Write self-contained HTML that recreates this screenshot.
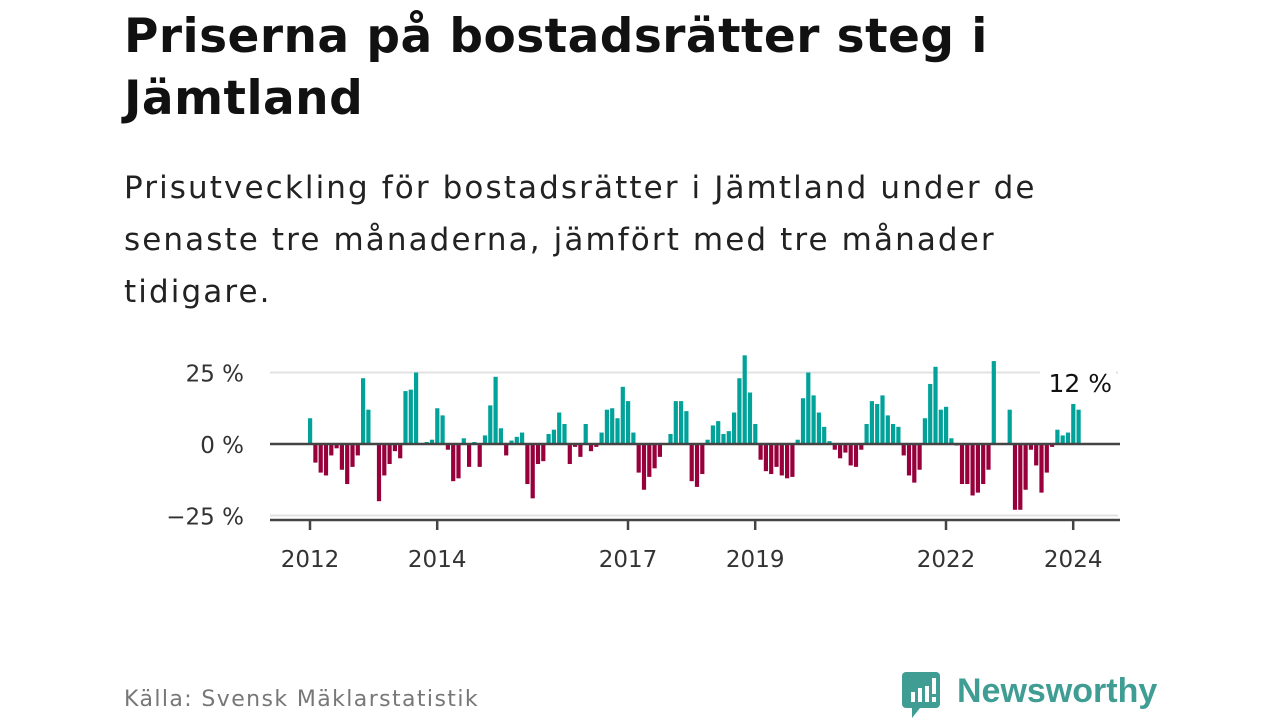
<!DOCTYPE html>
<html><head><meta charset="utf-8"><style>
body{margin:0;width:1280px;height:720px;background:#fff;overflow:hidden;font-family:"DejaVu Sans",sans-serif;position:relative}
#title{position:absolute;left:124px;top:6px;font-size:47px;font-weight:bold;line-height:62px;color:#111;letter-spacing:0.45px;white-space:nowrap}
#sub{position:absolute;left:124px;top:162px;font-size:31px;line-height:52px;color:#222;letter-spacing:2.1px;white-space:nowrap}
#src{position:absolute;left:124px;top:687px;font-size:22px;color:#777;letter-spacing:1.4px}
#logo{position:absolute;left:902px;top:670px}
</style></head><body>
<div id="title">Priserna på bostadsrätter steg i<br>Jämtland</div>
<div id="sub">Prisutveckling för bostadsrätter i Jämtland under de<br>senaste tre månaderna, jämfört med tre månader<br>tidigare.</div>
<svg id="chart" width="1280" height="720" style="position:absolute;left:0;top:0"></svg>
<div id="src">Källa: Svensk Mäklarstatistik</div>
<div id="logo">
<svg width="260" height="50"><path d="M4 2h30a4 4 0 0 1 4 4v28a4 4 0 0 1-4 4h-16l-8 10v-10h-6a4 4 0 0 1-4-4v-28a4 4 0 0 1 4-4z" fill="#3f9d94"/>
<rect x="9" y="22" width="4" height="10" fill="#fff"/><rect x="16" y="18" width="4" height="14" fill="#fff"/><rect x="23" y="16" width="4" height="16" fill="#fff"/><rect x="30" y="8" width="4" height="16" fill="#fff"/><rect x="30" y="27" width="4" height="5" fill="#fff"/>
<text x="55" y="32" font-family="Liberation Sans, sans-serif" font-size="34" font-weight="bold" fill="#3f9d94">Newsworthy</text></svg></div>
<script>
const values=[9,-6.5,-10,-11,-4,-1.5,-9,-14,-8,-4,23,12,0,-20,-11,-7,-2.5,-5,18.5,19,25,0,0.7,1.5,12.5,10,-2,-13,-12,2,-8,0.7,-8,3,13.5,23.5,5.5,-4,1.2,2.5,4,-14,-19,-7,-6,3.5,5,11,7,-7,-1,-4.5,7,-2.5,-1,4,12,12.5,9,20,15,4,-10,-16,-11.5,-8.5,-4.5,0,3.5,15,15,11.5,-13,-15,-10.5,1.5,6.5,8,3.5,4.5,11,23,31,18,7,-5.5,-9.5,-10.5,-8,-11,-12,-11.5,1.5,16,25,17,11,6,1,-2,-5,-3,-7.5,-8,-2,7,15,14,17,10,7,6,-4,-11,-13.5,-9,9,21,27,12,13,2,-0.5,-14,-14,-18,-17,-14,-9,29,0,0,12,-23,-23,-16,-2,-7.5,-17,-10,-1,5,3,4,14,12];
const yTicks=[25,0,-25];
const yLabels=["25 %","0 %","−25 %"];
const xTickYears=[2012,2014,2017,2019,2022,2024];
const startYear=2012;
const lastLabel="12 %";
const svg=document.getElementById('chart');const NS='http://www.w3.org/2000/svg';
const FONT='DejaVu Sans, sans-serif';
const y=v=>444-v*2.86;
const x=i=>310+i*5.3;
const xYear=yr=>x((yr-startYear)*12);
function mk(t,a){const e=document.createElementNS(NS,t);for(const k in a)e.setAttribute(k,a[k]);svg.appendChild(e);return e;}
yTicks.forEach((v,k)=>{
 if(v!==0){const g=mk('line',{x1:270,x2:1118,y1:y(v),y2:y(v),stroke:'#e2e2e2','stroke-width':2});
 
 }
 const t=mk('text',{x:244,y:y(v)+9,'text-anchor':'end','font-size':23,fill:'#333','font-family':FONT});
 t.textContent=yLabels[k];
 
 
});
values.forEach((v,i)=>{
 const r=mk('rect',{x:x(i)-2,y:Math.min(y(v),y(0)),width:4.2,height:Math.abs(y(v)-y(0)),fill:v>=0?'#00a29a':'#98003c'});
 
 
});
const z=mk('line',{x1:270,x2:1120,y1:y(0),y2:y(0),stroke:'#444','stroke-width':2.5});


const ax=mk('line',{x1:270,x2:1120,y1:520,y2:520,stroke:'#444','stroke-width':2.5});


xTickYears.forEach(yr=>{
 const tk=mk('line',{x1:xYear(yr),x2:xYear(yr),y1:520,y2:530,stroke:'#444','stroke-width':2.5});
 
 
 const t=mk('text',{x:xYear(yr),y:567,'text-anchor':'middle','font-size':23,fill:'#333','font-family':FONT});
 t.textContent=yr;
 
 
});
const bg=mk('rect',{x:1040,y:368,width:76,height:30,fill:'#fff'});


const lab=mk('text',{x:1112,y:392,'text-anchor':'end','font-size':25,fill:'#111','font-family':FONT});
lab.textContent=lastLabel;


</script>
</body></html>
